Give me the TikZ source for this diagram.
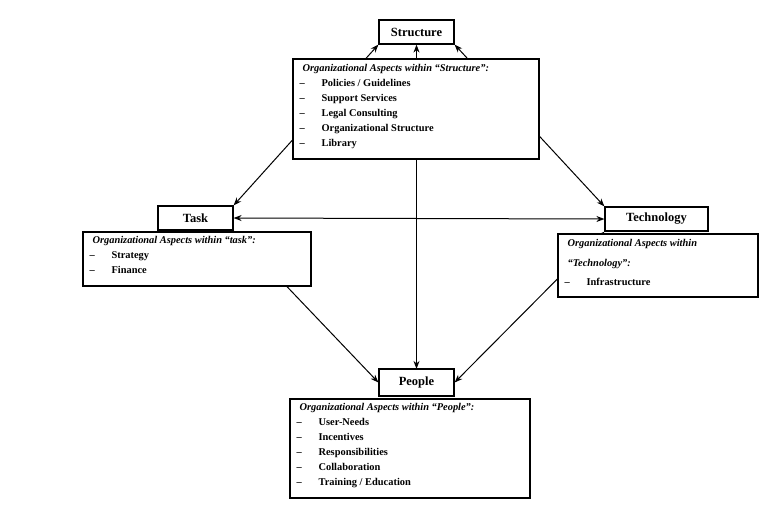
\documentclass[tikz,border=0pt]{standalone}
\usepackage{fontspec}
\setmainfont{Liberation Serif}
\usetikzlibrary{arrows.meta}
\tikzset{
  mainbox/.style={draw, line width=1.2pt, fill=white, inner sep=0pt, font=\fontsize{12.5}{14}\selectfont\bfseries},
  infobox/.style={draw, line width=1.2pt, fill=white, inner sep=0pt},
  infotext/.style={anchor=north west, inner sep=0pt, align=left, font=\fontsize{10.4}{15}\selectfont\bfseries},
  link/.style={line width=1pt, {Stealth[length=8pt,width=6pt]}-{Stealth[length=8pt,width=6pt]}}
}
\newcommand{\itm}[1]{\hspace*{3pt}\makebox[22pt][l]{--}#1}
\newcommand{\ttl}[1]{\hspace*{6pt}\textit{#1}}
\begin{document}
\begin{tikzpicture}[x=1pt,y=-1pt]
\useasboundingbox (0,0) rectangle (783,515);
% main boxes
\node[mainbox, minimum width=75pt, minimum height=24pt] (S) at (416.5,32) {Structure};
\node[mainbox, minimum width=75pt, minimum height=24pt] (T) at (195.5,218) {Task};
\node[mainbox, minimum width=103pt, minimum height=24pt] (H) at (656.5,219) {Technology};
\node[mainbox, minimum width=75pt, minimum height=26pt] (P) at (416.5,382.5) {People};
% connectors
\draw[link] (T.north east) -- (S.south west);
\draw[link] (S.south east) -- (H.north west);
\draw[link] (S.south) -- (P.north);
\draw[link] (T.east) -- (H.west);
\draw[link] (T.south east) -- (P.west);
\draw[link] (H.south west) -- (P.east);
% info boxes
\node[infobox, minimum width=246pt, minimum height=100pt] (SI) at (416,109) {};
\node[infobox, minimum width=228pt, minimum height=54pt] (TI) at (197,259) {};
\node[infobox, minimum width=200pt, minimum height=63pt] (HI) at (658,265.5) {};
\node[infobox, minimum width=240pt, minimum height=99pt] (PI) at (410,448.5) {};
% main boxes redrawn on top so their borders stay whole
\draw[line width=1.2pt] (S.south west) rectangle (S.north east);
\draw[line width=1.2pt] (T.south west) rectangle (T.north east);
\draw[line width=1.2pt] (H.south west) rectangle (H.north east);
\draw[line width=1.2pt] (P.south west) rectangle (P.north east);
% info texts
\node[infotext] (SIt) at ([shift={(4pt,-6pt)}]SI.north west) {%
  \ttl{Organizational Aspects within “Structure”:}\\
  \itm{Policies / Guidelines}\\
  \itm{Support Services}\\
  \itm{Legal Consulting}\\
  \itm{Organizational Structure}\\
  \itm{Library}};
\node[infotext] (TIt) at ([shift={(4pt,-5pt)}]TI.north west) {%
  \ttl{Organizational Aspects within “task”:}\\
  \itm{Strategy}\\
  \itm{Finance}};
\node[infotext, font=\fontsize{10.4}{19.5}\selectfont\bfseries] (HIt) at ([shift={(4pt,-6pt)}]HI.north west) {%
  \ttl{Organizational Aspects within}\\
  \ttl{“Technology”:}\\
  \itm{Infrastructure}};
\node[infotext] (PIt) at ([shift={(4pt,-5pt)}]PI.north west) {%
  \ttl{Organizational Aspects within “People”:}\\
  \itm{User-Needs}\\
  \itm{Incentives}\\
  \itm{Responsibilities}\\
  \itm{Collaboration}\\
  \itm{Training / Education}};
\end{tikzpicture}
\end{document}
